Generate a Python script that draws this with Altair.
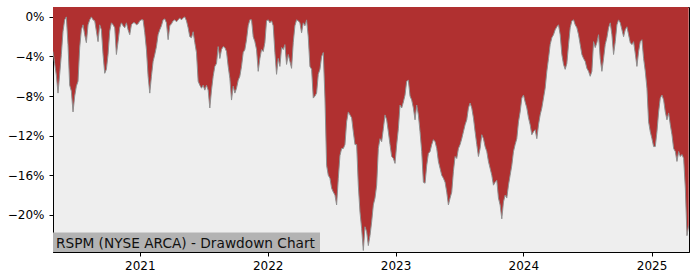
import altair as alt
import pandas as pd

# Drawdown values (%), in time order
seg_2020 = [-3.5, -4.7, -5.9, -7.7, -5.8, -3.8, -1.45, -0.3, 0.0, -2.8,
            -6.9, -7.5, -9.6, -8.0, -7.0, -6.5, -3.1, -1.3, -0.8, -1.8,
            -2.6, -0.8, -0.3, 0.0, -0.3, -0.4, -1.45, -2.5, -0.8, -1.3,
            -3.8, -5.7, -5.3, -3.8, -1.45, -0.6, -0.8, -1.1, -3.8, -2.5,
            -1.1, -0.6, -0.9, -1.1, -0.6, -1.3, -1.8, -0.8, -0.6]
seg_2021 = [-0.6, -0.8, -0.7, -0.4, -0.3, -0.3, -1.6, -3.3, -6.0, -7.7,
            -6.0, -4.5, -3.8, -3.0, -1.8, -1.3, -0.9, -0.3, -0.2, -0.6,
            -2.3, -0.9, -0.7, -0.4, -0.3, -0.5, -0.3, -0.1, -0.3, -0.1,
            0.0, -0.4, -1.1, -2.0, -2.1, -1.5, -2.6, -3.6, -6.5, -6.9,
            -7.2, -6.9, -7.4, -6.9, -7.4, -9.2, -7.4, -6.0, -5.0, -4.7,
            -3.0, -4.2, -3.3, -3.0, -3.1, -3.5, -5.0, -6.2, -8.4, -7.0,
            -7.7, -7.2, -6.4, -6.0, -5.0, -3.6, -3.3, -2.3, -0.9, -0.3]
seg_2022 = [-0.3, -2.0, -2.5, -3.3, -5.5, -4.2, -3.3, -3.5, -2.6, -0.4,
            -0.3, -0.6, -0.4, -0.9, -3.6, -5.8, -4.2, -5.0, -3.1, -3.3,
            -2.8, -4.8, -3.8, -4.5, -5.2, -2.6, -0.9, -0.3, -0.4, -0.6,
            -1.6, -0.6, -0.9, -0.3, -2.0, -5.0, -5.3, -8.2, -8.0, -7.7,
            -5.8, -5.3, -4.0, -3.6]
seg_2022b = [-8.2, -15.0, -16.0, -16.3, -17.3, -17.7, -18.0, -19.0, -16.3, -14.0,
             -13.3, -13.3, -12.9, -10.6, -9.6, -9.9, -10.2, -11.6, -12.9, -12.9,
             -17.0, -19.7, -21.4, -23.6, -21.2, -21.7, -23.1, -22.1, -20.7, -19.0,
             -18.3]
seg_2023 = [-17.0, -13.3, -12.3, -12.6, -11.3, -9.9, -10.4, -11.6, -12.9, -14.1,
            -14.3, -14.8, -12.9, -11.3, -8.9, -9.2, -8.6, -7.9, -6.5, -6.4,
            -8.0, -8.4, -9.2, -10.4, -8.9, -9.9, -11.6, -13.6, -16.7, -16.8,
            -15.0, -13.8, -13.6, -12.9, -12.4, -12.6, -13.3, -14.6, -15.3, -16.0,
            -16.3, -16.7, -17.7, -19.0, -18.3, -17.7, -15.6]
seg_2023b = [-14.1, -14.3, -13.3, -12.9, -12.3, -11.6, -10.9, -10.4, -9.2, -8.7,
             -9.2, -10.2, -11.6, -12.9, -14.1, -13.3, -11.9, -12.3, -13.1, -13.6,
             -14.6, -15.3, -16.0, -17.0, -16.7, -16.5, -18.3, -19.0, -20.4, -18.7,
             -18.0, -18.3, -17.0, -16.0, -15.0, -13.6, -12.9, -12.3, -10.6, -9.6,
             -8.2, -7.9, -8.6, -9.2, -10.2, -10.9, -11.9, -11.6, -11.4]
seg_2024 = [-12.3, -10.9, -9.9, -9.2, -8.2, -7.2, -5.5, -4.2, -2.8, -2.1,
            -1.8, -1.3, -1.0, -0.8, -1.8, -3.8, -4.8, -5.3, -4.7, -2.8,
            -1.1, -0.4, -0.3, -0.8, -1.1, -1.8, -2.8, -3.8, -4.2, -4.5,
            -5.2, -5.5, -6.0, -5.5, -2.5, -3.1, -2.6, -1.8, -4.2, -5.5,
            -4.2, -2.8, -2.1, -1.1, -0.6, -1.8, -3.8, -2.5]
seg_2025 = [-0.8, -0.3, -0.6, -1.3, -2.0, -1.3, -1.0, -1.8, -2.6, -2.8,
            -2.5, -3.7, -5.0, -3.5, -2.5, -2.3, -4.2, -5.5, -7.2, -10.6,
            -11.6, -12.3, -13.1, -13.1, -11.6, -9.6, -8.2, -7.9, -8.4, -9.6,
            -10.4, -9.7, -10.9, -11.9, -13.3, -13.6, -14.6, -13.6, -14.1, -13.9,
            -14.3, -17.3, -22.1, -21.1]

values = seg_2020 + seg_2021 + seg_2022 + seg_2022b + seg_2023 + seg_2023b + seg_2024 + seg_2025
first_date = "2020-04-28"
last_date = "2025-04-17"
dates = pd.date_range(first_date, last_date, periods=len(values))
df = pd.DataFrame({"date": dates, "dd": values})

y_top = 1.0
y_bottom = -23.75
y_ticks = [0, -4, -8, -12, -16, -20]
x_years = [2021, 2022, 2023, 2024, 2025]
label = "RSPM (NYSE ARCA) - Drawdown Chart"

x_scale = alt.Scale(domain=[alt.DateTime(year=2020, month=4, date=28),
                            alt.DateTime(year=2025, month=4, date=18)])
y_scale = alt.Scale(domain=[y_bottom, y_top], nice=False, zero=False)

x_enc = alt.X("date:T", scale=x_scale, title=None,
              axis=alt.Axis(values=[alt.DateTime(year=y, month=1, date=1) for y in x_years],
                            format="%Y", labelFlush=False, labelPadding=4))
y_enc = alt.Y("dd:Q", scale=y_scale, title=None,
              axis=alt.Axis(values=y_ticks, labelPadding=5,
                            labelExpr="(datum.value < 0 ? '\u2212' + abs(datum.value) : datum.value) + '%'"))

area = alt.Chart(df).mark_area(color="#b03030", interpolate="linear", clip=True).encode(
    x=x_enc, y=y_enc, y2=alt.datum(y_top)
)
line = alt.Chart(df).mark_line(color="#8f8f8f", strokeWidth=1, clip=True).encode(
    x="date:T", y="dd:Q"
)

lab_df = pd.DataFrame({"label": [label]})
box = alt.Chart(lab_df).mark_rect(color="#b3b3b3").encode(
    x=alt.value(0), x2=alt.value(267), y=alt.value(225.5), y2=alt.value(245)
)
txt = alt.Chart(lab_df).mark_text(align="left", baseline="alphabetic", font="DejaVu Sans",
                                   fontSize=13.7, color="#111111").encode(
    x=alt.value(3), y=alt.value(240.5), text="label:N"
)

chart = alt.layer(area, line, box, txt).properties(
    width=636, height=245,
    autosize=alt.AutoSizeParams(type="none"),
    padding={"left": 53, "top": 7, "right": 11, "bottom": 28},
    background="white",
).configure_view(
    fill="#eeeeee", stroke="black", strokeWidth=1
).configure_axis(
    grid=False, domainColor="black", tickColor="black", labelColor="black",
    labelFont="DejaVu Sans", labelFontSize=12, tickSize=4, domainWidth=1
)

chart.save("out.html", embed_options={"renderer": "svg", "actions": False})
